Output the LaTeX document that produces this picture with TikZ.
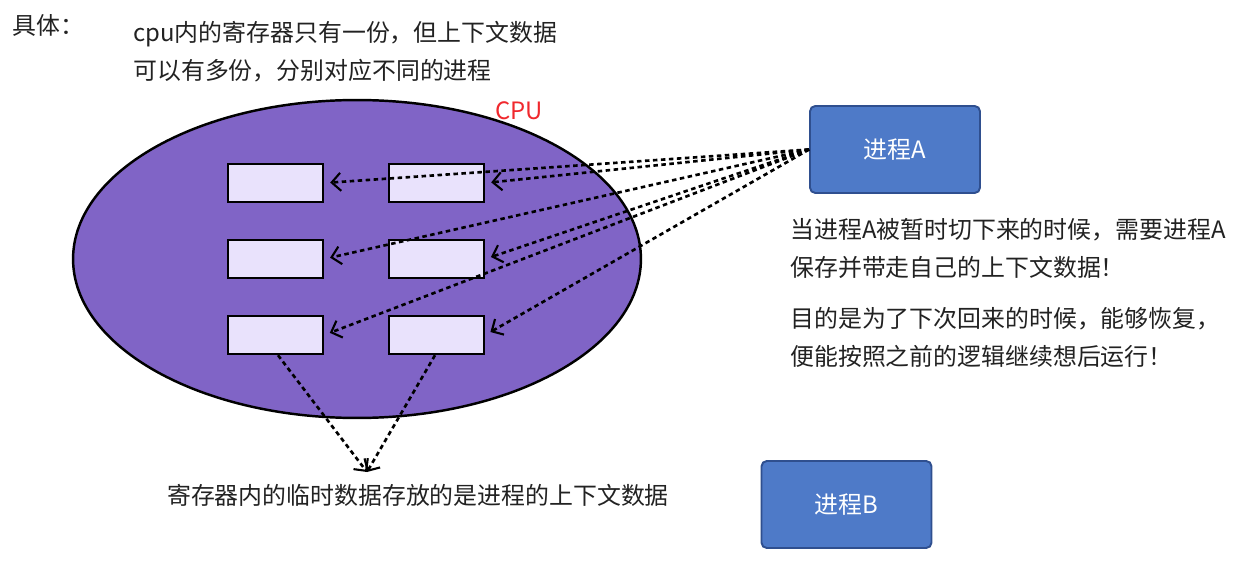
\documentclass[tikz,border=0pt]{standalone}
\usepackage{fontspec}
\setmainfont{Noto Sans CJK SC}
\usetikzlibrary{shapes.geometric, arrows.meta, positioning}
\definecolor{CpuPurple}{HTML}{8064C6}
\definecolor{RegLilac}{HTML}{E9E2FC}
\definecolor{ProcBlue}{HTML}{4E7AC8}
\definecolor{ProcEdge}{HTML}{2F4F8F}
\definecolor{CpuRed}{HTML}{F0282D}
\definecolor{TextGray}{HTML}{222222}
\tikzset{
  regbox/.style={rectangle, draw=black, line width=1.4pt, fill=RegLilac,
                 minimum width=1.9cm, minimum height=0.76cm, inner sep=0pt},
  procbox/.style={rectangle, rounded corners=3pt, draw=ProcEdge, line width=1.1pt,
                  fill=ProcBlue, text=white, minimum width=3.4cm, minimum height=1.74cm},
  ctxarrow/.style={-{Straight Barb[length=1.8mm, width=3.6mm, line width=1.2pt]}, line width=1.5pt,
                   dash pattern=on 0.09cm off 0.07cm},
  note/.style={text=TextGray, inner sep=0pt, align=left,
               font=\fontsize{13.6pt}{21.6pt}\selectfont}
}

\begin{document}
\begin{tikzpicture}[x=0.02cm, y=-0.02cm]
    \useasboundingbox (0,0) rectangle (1245,564);

    % CPU
    \node[ellipse, draw=black, line width=1.4pt, fill=CpuPurple,
          minimum width=11.36cm, minimum height=6.36cm, inner sep=0pt] (cpu) at (357,259) {};
    \node[text=CpuRed, font=\fontsize{13.6pt}{16pt}\selectfont, inner sep=0pt] (cpulabel) at (519,111) {CPU};

    % Registers
    \node[regbox] (r1l) at (275.5,183) {};
    \node[regbox] (r1r) at (436.5,183) {};
    \node[regbox] (r2l) at (275.5,259) {};
    \node[regbox] (r2r) at (436.5,259) {};
    \node[regbox] (r3l) at (275.5,335) {};
    \node[regbox] (r3r) at (436.5,335) {};

    % Processes
    \node[procbox, font=\fontsize{13.6pt}{16pt}\selectfont] (pa) at (895,149.5) {进程A};
    \node[procbox, font=\fontsize{13.6pt}{16pt}\selectfont] (pb) at (846.5,504.5) {进程B};

    % Texts
    \node[note, anchor=west] (head) at (12,25) {具体：};
    \node[note, anchor=west] (once) at (133,52) {cpu内的寄存器只有一份，但上下文数据\\可以有多份，分别对应不同的进程};
    \node[note, anchor=west] (save) at (790,248.5) {当进程A被暂时切下来的时候，需要进程A\\保存并带走自己的上下文数据！};
    \node[note, anchor=west] (goal) at (790,337) {目的是为了下次回来的时候，能够恢复，\\便能按照之前的逻辑继续想后运行！};
    \node[note] (regnote) at (418,495) {寄存器内的临时数据存放的是进程的上下文数据};

    % Context arrows
    \draw[ctxarrow, shorten >=0.12cm] (pa.west) -- (r1l.east);
    \draw[ctxarrow, shorten >=0.12cm] (pa.west) -- (r1r.east);
    \draw[ctxarrow, shorten >=0.12cm] (pa.west) -- (r2l.east);
    \draw[ctxarrow, shorten >=0.12cm] (pa.west) -- (r2r.east);
    \draw[ctxarrow, shorten >=0.12cm] (pa.west) -- (r3l.east);
    \draw[ctxarrow, shorten >=0.12cm] (pa.west) -- (r3r.east);

    % Pointer to note
    \coordinate (tip) at (367,472);
    \draw[ctxarrow] ([xshift=0.05cm]r3l.south) -- (tip);
    \draw[ctxarrow] ([xshift=-0.03cm]r3r.south) -- (tip);
\end{tikzpicture}
\end{document}
